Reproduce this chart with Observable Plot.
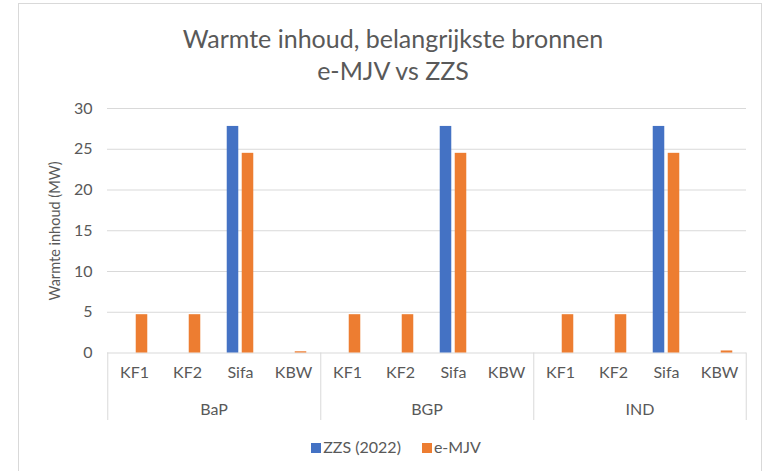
<!DOCTYPE html>
<html>
<head>
<meta charset="utf-8">
<script src="https://cdn.jsdelivr.net/npm/d3@7"></script>
<script src="https://cdn.jsdelivr.net/npm/@observablehq/plot@0.6"></script>
<style>
  html, body { margin: 0; padding: 0; background: #fff; }
  body { width: 764px; height: 471px; position: relative; overflow: hidden; font-family: Lato, "Open Sans", sans-serif; }
  #border { position: absolute; left: 18px; top: 3px; width: 744px; height: 500px; border: 1px solid #d9d9d9; box-sizing: border-box; }
  #title { position: absolute; left: 0; width: 786px; top: 22px; text-align: center; color: #595959; font-size: 25px; line-height: 32px; }
  #ylabel { position: absolute; left: 55px; top: 231px; width: 240px; margin-left: -120px; margin-top: -10px; height: 20px; line-height: 20px; text-align: center; color: #595959; font-size: 14.5px; transform: rotate(-90deg); }
  #chart { position: absolute; left: 0; top: 90px; }
  #legend { position: absolute; left: 0; width: 792px; top: 437px; text-align: center; color: #595959; font-size: 16px; }
  .sw { display: inline-block; width: 10px; height: 10px; margin-right: 2px; vertical-align: 0px; }
  .item { margin: 0 10.5px; }
</style>
</head>
<body>
<div id="border"></div>
<div id="title">Warmte inhoud, belangrijkste bronnen<br>e-MJV vs ZZS</div>
<div id="chart"></div>
<div id="ylabel">Warmte inhoud (MW)</div>
<div id="legend"></div>
<script>
const groups = ["BaP", "BGP", "IND"];
const categories = ["KF1", "KF2", "Sifa", "KBW"];
const seriesNames = ["ZZS (2022)", "e-MJV"];
const zzsValues = [0, 0, 27.8, 0, 0, 0, 27.8, 0, 0, 0, 27.8, 0];
const emjvValues = [4.7, 4.7, 24.5, 0.15, 4.7, 4.7, 24.5, 0, 4.7, 4.7, 24.5, 0.25];
const yTicks = [0, 5, 10, 15, 20, 25, 30];
const colors = ["#4472C4", "#ED7D31"];

const rows = groups.flatMap((g, gi) => categories.map((c, ci) => ({
  group: g, category: c, zzs: zzsValues[gi * 4 + ci], emjv: emjvValues[gi * 4 + ci]
})));

const W = 764, H = 340, mL = 105.5, mR = 17, mT = 18, mB = 77.5;
const facetW = (W - mL - mR) / groups.length;
const step = facetW / categories.length;
const barW = 12;
const inset = (step - barW) / 2;
const frameH = H - mT - mB;

const chart = Plot.plot({
  width: W, height: H,
  marginLeft: mL, marginRight: mR, marginTop: mT, marginBottom: mB,
  style: { fontFamily: "Lato, 'Open Sans', sans-serif", fontSize: "16px", color: "#595959", background: "transparent", overflow: "visible" },
  fx: { domain: groups, padding: 0, axis: null },
  x: { domain: categories, padding: 0, axis: null },
  y: { domain: [0, 30], axis: null },
  marks: [
    Plot.gridY(yTicks.filter(t => t > 0), { stroke: "#d9d9d9", strokeOpacity: 1, strokeWidth: 1 }),
    Plot.ruleY([0], { stroke: "#d9d9d9", strokeWidth: 1 }),
    Plot.axisY(yTicks, { tickSize: 0, tickPadding: 15, fontSize: 16, fill: "#595959", label: null }),
    Plot.barY(rows, { fx: "group", x: "category", y: "zzs", fill: colors[0], dx: -7.5, insetLeft: inset, insetRight: inset, filter: d => d.zzs > 0 }),
    Plot.barY(rows, { fx: "group", x: "category", y: "emjv", fill: colors[1], dx: 7.5, insetLeft: inset, insetRight: inset, filter: d => d.emjv > 0 }),
    Plot.axisX({ tickSize: 0, tickPadding: 14, fontSize: 16, fill: "#595959", label: null }),
    Plot.text(groups, { fx: d => d, text: d => d, frameAnchor: "bottom", lineAnchor: "middle", dy: 57, fontSize: 16, fill: "#595959" }),
    Plot.ruleX(groups, { fx: d => d, x: () => categories[0], dx: -step / 2, stroke: "#d9d9d9", insetTop: frameH, insetBottom: -67.5 }),
    Plot.ruleX(groups.slice(-1), { fx: d => d, x: () => categories[categories.length - 1], dx: step / 2, stroke: "#d9d9d9", insetTop: frameH, insetBottom: -67.5 })
  ]
});
document.getElementById("chart").appendChild(chart);

const legend = document.getElementById("legend");
seriesNames.forEach((name, i) => {
  const span = document.createElement("span");
  span.className = "item";
  span.innerHTML = `<span class="sw" style="background:${colors[i]}"></span>${name}`;
  legend.appendChild(span);
});
</script>
</body>
</html>
